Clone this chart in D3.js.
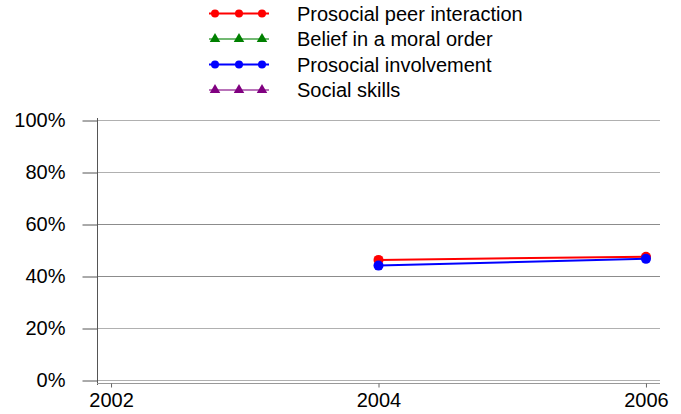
<!DOCTYPE html>
<html>
<head>
<meta charset="utf-8">
<title>Protective factors</title>
<script src="https://cdn.jsdelivr.net/npm/d3@7/dist/d3.min.js"></script>
<style>
  *{margin:0;padding:0;}
  body{background:#fff;}
  text{font-family:"Liberation Sans",Arial,sans-serif;}
</style>
</head>
<body>
<div id="chart"></div>
<script>
// data
var years = [2002, 2004, 2006];
var seriesNames = ["Prosocial peer interaction", "Belief in a moral order", "Prosocial involvement", "Social skills"];
var peerInteraction = [null, 46.2, 47.4];
var moralOrder = [null, null, null];
var involvement = [null, 44.0, 46.6];
var socialSkills = [null, null, null];
var yTicks = [0, 20, 40, 60, 80, 100];

var colors = ["#ff0000", "#008000", "#0000ff", "#800080"];
var shapes = ["circle", "triangle", "circle", "triangle"];
var allValues = [peerInteraction, moralOrder, involvement, socialSkills];

var W = 681, H = 414;
var fs = 20;
var svg = d3.select("#chart").append("svg").attr("width", W).attr("height", H);

// plot area (window.top is reserved, so prefixed names)
var pLeft = 97, pRight = 660, pTop = 120, pBottom = 380;
var x = d3.scaleLinear().domain([2001.895, 2006.105]).range([pLeft, pRight]);
var y = d3.scaleLinear().domain([0, 100]).range([pBottom, pTop]);

// gridlines
svg.append("g").selectAll("line").data(yTicks).enter().append("line")
   .attr("x1", pLeft).attr("x2", pRight)
   .attr("y1", function(d){return y(d)+0.5;}).attr("y2", function(d){return y(d)+0.5;})
   .attr("stroke", function(d){return d==40 || d==60 ? "#8c8c8c" : "#b0b0b0";}).attr("stroke-width", 1);

// y axis
var yAxis = d3.axisLeft(y).tickValues(yTicks).tickSize(15).tickPadding(17)
              .tickFormat(function(d){return d + "%";});
var gy = svg.append("g").attr("transform", "translate(" + (pLeft+0.5) + ",0.5)").call(yAxis);
gy.select(".domain").remove();
gy.selectAll(".tick line").attr("stroke", "#555");
gy.selectAll("text").attr("font-size", fs).attr("fill", "#000")
  .attr("font-family", "Liberation Sans, Arial, sans-serif");
svg.append("line").attr("x1", pLeft+0.5).attr("x2", pLeft+0.5).attr("y1", pTop-2).attr("y2", pBottom+5)
   .attr("stroke", "#555");

// x axis
var xAxis = d3.axisBottom(x).tickValues(years).tickSize(4).tickPadding(5).tickFormat(d3.format("d"));
var gx = svg.append("g").attr("transform", "translate(0," + (pBottom+3.5) + ")").call(xAxis);
gx.select(".domain").attr("stroke", "#999").attr("d", "M" + pLeft + ",0H" + pRight);
gx.selectAll(".tick line").attr("stroke", "#666");
gx.selectAll("text").attr("font-size", fs).attr("fill", "#000")
  .attr("font-family", "Liberation Sans, Arial, sans-serif");

// series
var line = d3.line()
  .defined(function(d){return d.v != null;})
  .x(function(d){return x(d.year);})
  .y(function(d){return y(d.v);});

var symTri = d3.symbol().type(d3.symbolTriangle).size(55);

allValues.forEach(function(vals, i){
  var pts = years.map(function(yr, j){return {year: yr, v: vals[j]};});
  var g = svg.append("g");
  g.append("path").datum(pts).attr("d", line).attr("fill", "none")
   .attr("stroke", colors[i]).attr("stroke-width", 2);
  var valid = pts.filter(function(d){return d.v != null;});
  if (shapes[i] == "circle") {
    g.selectAll("circle").data(valid).enter().append("circle")
     .attr("cx", function(d){return x(d.year);}).attr("cy", function(d){return y(d.v);})
     .attr("r", 5).attr("fill", colors[i]);
  } else {
    g.selectAll("path.m").data(valid).enter().append("path").attr("class", "m")
     .attr("d", symTri).attr("fill", colors[i])
     .attr("transform", function(d){return "translate(" + x(d.year) + "," + y(d.v) + ")";});
  }
});

// legend
var legend = svg.append("g");
seriesNames.forEach(function(name, i){
  var ly = 13.5 + i * 25.5;
  var lg = legend.append("g").attr("transform", "translate(0," + ly + ")");
  lg.append("line").attr("x1", 209).attr("x2", 269).attr("y1", 0).attr("y2", 0)
    .attr("stroke", colors[i]).attr("stroke-width", 2)
    .attr("stroke-opacity", shapes[i] == "triangle" ? 0.55 : 1);
  [215, 239, 262].forEach(function(mx){
    if (shapes[i] == "circle") {
      lg.append("circle").attr("cx", mx).attr("cy", 0).attr("r", 4).attr("fill", colors[i]);
    } else {
      lg.append("path").attr("d", d3.symbol().type(d3.symbolTriangle).size(48))
        .attr("fill", colors[i]).attr("transform", "translate(" + mx + ",0)");
    }
  });
  lg.append("text").attr("x", 297).attr("y", 7).attr("font-size", fs).text(name);
});
</script>
</body>
</html>
